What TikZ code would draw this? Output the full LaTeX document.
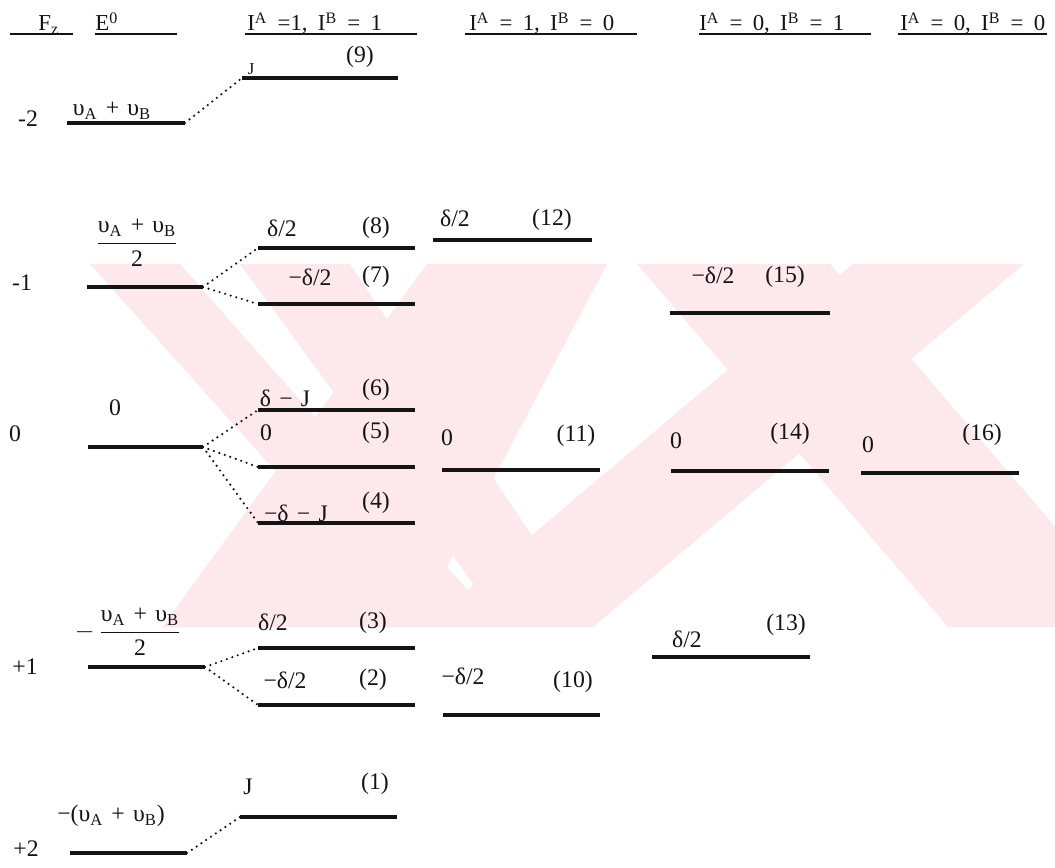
\documentclass[tikz,border=0pt]{standalone}
\usepackage{fontspec}
\setmainfont{Liberation Serif}
\usepackage{amsmath}
\definecolor{wmark}{RGB}{253,232,236}
\colorlet{ink}{black!92}
\newcommand\hdrfont{\fontsize{13}{15}\selectfont\spaceskip=0.45em\relax}
\newcommand\labsize{\fontsize{13.5}{16}\selectfont\spaceskip=0.35em\relax}
\tikzset{
  lvl/.style   ={ink, line width=1.8pt},
  uline/.style ={ink, line width=1.2pt},
  split/.style ={ink, line width=1.4pt, line cap=round,
                 dash pattern=on 0pt off 3.3pt},
  hdr/.style   ={font=\hdrfont, anchor=base west, inner sep=0pt, text=ink},
  lab/.style   ={font=\labsize, inner sep=0pt, text=ink},
  small/.style ={lab, font=\fontsize{9.5}{11}\selectfont},
}

\begin{document}
\begin{tikzpicture}[x=0.02cm, y=-0.02cm]
\useasboundingbox (0,0) rectangle (1055,868);

% watermark
\begin{scope}
  \clip (0,264) rectangle (1055,627);
  \fill[wmark] (90,264) -- (180,264) -- (500,627) -- (415,627) -- cycle;
  \fill[wmark] (240,264) -- (350,264) -- (593,627) -- (505,627) -- cycle;
  \fill[wmark] (427,264) -- (607,264) -- (415,627) -- (162,627) -- cycle;
  \fill[wmark] (637,264) -- (830,264) -- (1141,627) -- (948,627) -- cycle;
  \fill[wmark] (853,264) -- (1024,264) -- (593,627) -- (423,627) -- cycle;
\end{scope}

% headers
\node[hdr] (hF)  at (38,31)  {F\textsubscript{z}};
\node[hdr] (hE)  at (95,31)  {E\textsuperscript{0}};
\node[hdr] (h11) at (247,31) {I\textsuperscript{A} =1, I\textsuperscript{B} = 1};
\node[hdr] (h10) at (469,31) {I\textsuperscript{A} = 1, I\textsuperscript{B} = 0};
\node[hdr] (h01) at (699,31) {I\textsuperscript{A} = 0, I\textsuperscript{B} = 1};
\node[hdr] (h00) at (900,31) {I\textsuperscript{A} = 0, I\textsuperscript{B} = 0};
\foreach \a/\b in {10/73, 95/177, 245/417, 465/637, 699/871, 898/1047}
  \draw[uline] (\a,34) -- (\b,34);

% levels
\foreach \n/\a/\b/\y in {em2/67/185/123, s9/242/398/78,
    em1/87/203/287, s8/258/415/248, s7/258/415/304,
    s12/433/592/240, s15/670/830/313,
    e0/88/203/447, s6/258/415/410, s5/258/415/467, s4/258/415/523,
    s11/442/600/470, s14/671/829/471, s16/861/1019/473,
    ep1/88/205/667, s3/258/415/648, s2/258/415/705,
    s10/443/600/715, s13/652/810/657,
    ep2/70/187/853, s1/240/397/817}{
  \coordinate (\n-l) at (\a,\y);
  \coordinate (\n-r) at (\b,\y);
  \draw[lvl] (\n-l) -- (\n-r);
}

% splittings
\foreach \a/\b in {em2/s9, em1/s8, em1/s7, e0/s6, e0/s5, e0/s4,
                   ep1/s3, ep1/s2, ep2/s1}
  \draw[split] (\a-r) -- (\b-l);

% F_z column
\node[lab] (fm2) at (28,119) {-2};
\node[lab] (fm1) at (22,283) {-1};
\node[lab] (f0)  at (15,434) {0};
\node[lab] (fp1) at (25,667) {+1};
\node[lab] (fp2) at (26,849) {+2};

% E^0 column
\node[lab] (em2-t) at (112,111) {υ\textsubscript{A} + υ\textsubscript{B}};
\node[lab] (em1-t) at (137,243)
  {$\dfrac{\text{υ\textsubscript{A} + υ\textsubscript{B}}}{\text{2}}$};
\node[lab] (e0-t)  at (115,408) {0};
\node[lab] (ep1-t) at (128,632)
  {$-\,\dfrac{\text{υ\textsubscript{A} + υ\textsubscript{B}}}{\text{2}}$};
\node[lab] (ep2-t) at (111,816) {−(υ\textsubscript{A} + υ\textsubscript{B})};

% I^A=1, I^B=1
\node[small] (s9-t)  at (251,69)  {J};
\node[lab]   (s9-n)  at (360,57)  {(9)};
\node[lab]   (s8-t)  at (282,228) {δ/2};
\node[lab]   (s8-n)  at (376,228) {(8)};
\node[lab]   (s7-t)  at (310,277) {−δ/2};
\node[lab]   (s7-n)  at (376,277) {(7)};
\node[lab]   (s6-t)  at (285,398) {δ − J};
\node[lab]   (s6-n)  at (376,390) {(6)};
\node[lab]   (s5-t)  at (266,433) {0};
\node[lab]   (s5-n)  at (376,433) {(5)};
\node[lab]   (s4-t)  at (296,513) {−δ − J};
\node[lab]   (s4-n)  at (376,503) {(4)};
\node[lab]   (s3-t)  at (273,622) {δ/2};
\node[lab]   (s3-n)  at (373,623) {(3)};
\node[lab]   (s2-t)  at (285,680) {−δ/2};
\node[lab]   (s2-n)  at (373,680) {(2)};
\node[lab]   (s1-t)  at (248,787) {J};
\node[lab]   (s1-n)  at (375,784) {(1)};

% I^A=1, I^B=0
\node[lab] (s12-t) at (455,218) {δ/2};
\node[lab] (s12-n) at (552,220) {(12)};
\node[lab] (s11-t) at (447,438) {0};
\node[lab] (s11-n) at (576,436) {(11)};
\node[lab] (s10-t) at (463,676) {−δ/2};
\node[lab] (s10-n) at (573,682) {(10)};

% I^A=0, I^B=1
\node[lab] (s15-t) at (713,275) {−δ/2};
\node[lab] (s15-n) at (785,277) {(15)};
\node[lab] (s14-t) at (676,441) {0};
\node[lab] (s14-n) at (790,434) {(14)};
\node[lab] (s13-t) at (687,639) {δ/2};
\node[lab] (s13-n) at (786,625) {(13)};

% I^A=0, I^B=0
\node[lab] (s16-t) at (868,445) {0};
\node[lab] (s16-n) at (982,435) {(16)};

\end{tikzpicture}
\end{document}
